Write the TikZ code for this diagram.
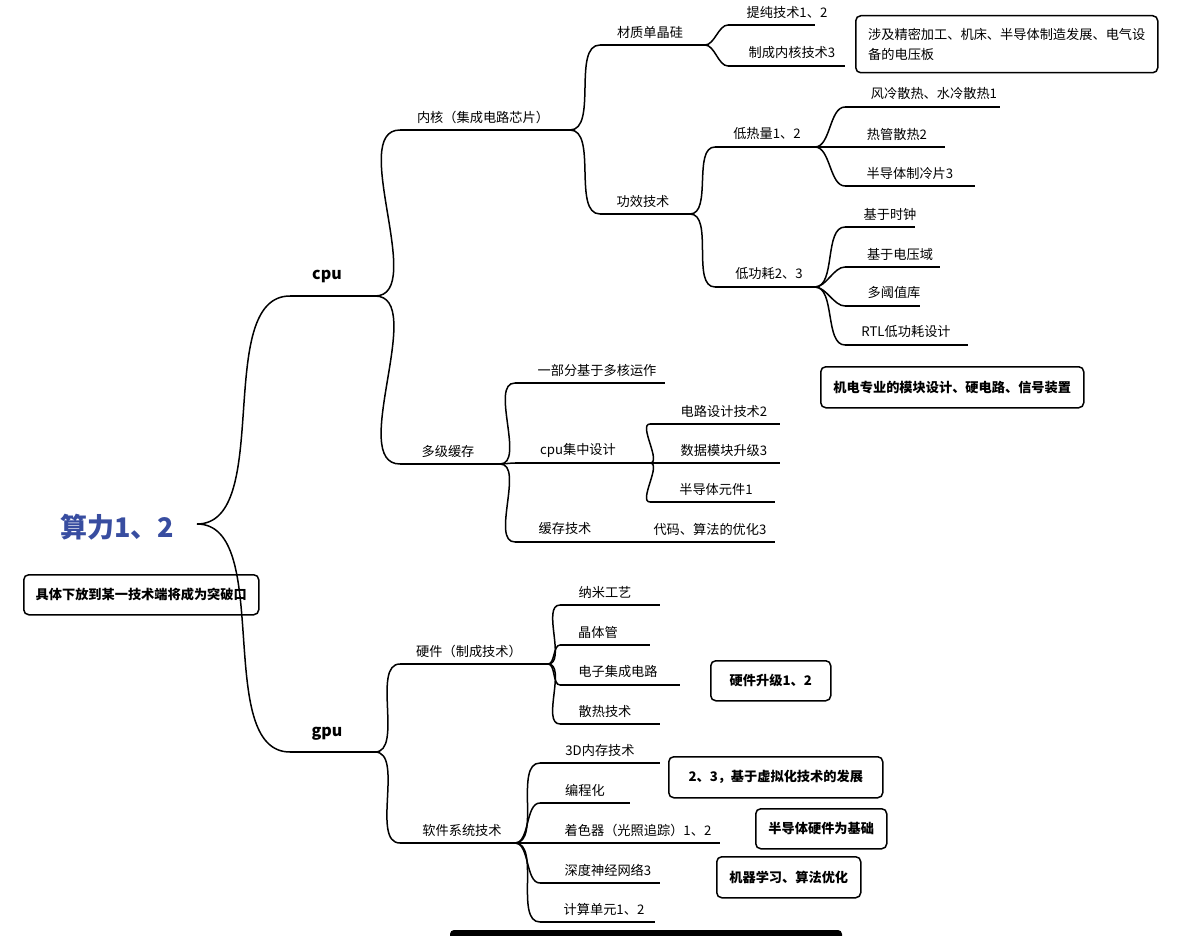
\documentclass[tikz,border=0pt]{standalone}
\usepackage{fontspec}
\setmainfont{Noto Sans CJK SC}
\definecolor{rootc}{RGB}{56,77,160}
\begin{document}
\begin{tikzpicture}[x=1pt,y=-1pt,line width=1.5pt,
  txt/.style={font=\fontsize{13.2}{15}\selectfont,inner sep=0pt},
  box/.style={draw,rounded corners=5pt,line width=1.5pt,font=\fontsize{13.2}{15}\selectfont\bfseries,inner sep=0pt,align=center},
  lk/.style={out=0,in=180,looseness=0.8}]
\useasboundingbox (0,0) rectangle (1200,936);
\newcommand{\mm}[6]{\node[txt] (#1) at (#5,#4-13) {#6};
  \coordinate (#1-l) at (#2,#4); \coordinate (#1-r) at (#3,#4);
  \draw (#1-l) -- (#1-r);}
\newcommand{\lnk}[2]{\draw (#1-r) to[lk] (#2-l);}
\node[font=\fontsize{27}{30}\selectfont\bfseries,text=rootc,inner sep=0pt] (root) at (117,527) {算力1、2};
\coordinate (root-r) at (197,524);
% cpu
\node[font=\fontsize{16}{18}\selectfont\bfseries,inner sep=0pt] (cpu) at (327,276) {cpu};
\coordinate (cpu-l) at (290,296); \coordinate (cpu-r) at (375,296);
\draw (cpu-l) -- (cpu-r);
\node[font=\fontsize{16}{18}\selectfont\bfseries,inner sep=0pt] (gpu) at (327,734) {gpu};
\coordinate (gpu-l) at (290,752); \coordinate (gpu-r) at (375,752);
\draw (gpu-l) -- (gpu-r);
\lnk{root}{cpu}\lnk{root}{gpu}
\mm{nh}{400}{570}{130}{483}{内核（集成电路芯片）}
\mm{dj}{400}{500}{464}{448}{多级缓存}
\lnk{cpu}{nh}\lnk{cpu}{dj}
\mm{cz}{600}{705}{45}{650}{材质单晶硅}
\mm{gx}{600}{690}{214}{643}{功效技术}
\lnk{nh}{cz}\lnk{nh}{gx}
\mm{tc}{728}{815}{25}{787}{提纯技术1、2}
\mm{zc}{728}{845}{66}{792}{制成内核技术3}
\lnk{cz}{tc}\lnk{cz}{zc}
\mm{drl}{715}{815}{147}{767}{低热量1、2}
\mm{dgh}{715}{815}{287}{769}{低功耗2、3}
\lnk{gx}{drl}\lnk{gx}{dgh}
\mm{fl}{845}{1000}{107}{934}{风冷散热、水冷散热1}
\mm{rg}{845}{945}{147}{897}{热管散热2}
\mm{bd}{845}{975}{186}{910}{半导体制冷片3}
\lnk{drl}{fl}\lnk{drl}{rg}\lnk{drl}{bd}
\mm{sz}{845}{915}{227}{890}{基于时钟}
\mm{dy}{845}{940}{267}{900}{基于电压域}
\mm{df}{845}{920}{306}{894}{多阈值库}
\mm{rtl}{845}{968}{345}{906}{RTL低功耗设计}
\lnk{dgh}{sz}\lnk{dgh}{dy}\lnk{dgh}{df}\lnk{dgh}{rtl}
\mm{yb}{515}{665}{383}{597}{一部分基于多核运作}
\mm{jz}{515}{650}{463}{578}{cpu集中设计}
\mm{hc}{515}{630}{542}{565}{缓存技术}
\lnk{dj}{yb}\lnk{dj}{jz}\lnk{dj}{hc}
\mm{dl}{650}{780}{424}{724}{电路设计技术2}
\mm{sj}{650}{780}{463}{724}{数据模块升级3}
\mm{bt}{650}{775}{502}{716}{半导体元件1}
\lnk{jz}{dl}\lnk{jz}{sj}\lnk{jz}{bt}
\mm{dm}{630}{775}{542}{710}{代码、算法的优化3}
% gpu
\mm{yj}{400}{548}{664}{469}{硬件（制成技术）}
\mm{rj}{400}{515}{843}{462}{软件系统技术}
\lnk{gpu}{yj}\lnk{gpu}{rj}
\mm{nm}{560}{660}{605}{605}{纳米工艺}
\mm{jt}{560}{650}{645}{598}{晶体管}
\mm{dz}{560}{680}{685}{618}{电子集成电路}
\mm{sr}{560}{660}{724}{605}{散热技术}
\lnk{yj}{nm}\lnk{yj}{jt}\lnk{yj}{dz}\lnk{yj}{sr}
\mm{nc}{540}{660}{763}{600}{3D内存技术}
\mm{bc}{540}{630}{803}{585}{编程化}
\mm{zs}{540}{720}{843}{638}{着色器（光照追踪）1、2}
\mm{sd}{540}{660}{883}{608}{深度神经网络3}
\mm{js}{540}{655}{922}{604}{计算单元1、2}
\lnk{rj}{nc}\lnk{rj}{bc}\lnk{rj}{zs}\lnk{rj}{sd}\lnk{rj}{js}
% boxes
\node[box,font=\fontsize{13.2}{20}\selectfont,align=left,minimum width=302pt,minimum height=57pt,anchor=north west] (b1) at (855,15) {涉及精密加工、机床、半导体制造发展、电气设\\备的电压板\hspace*{10.8em}};
\node[box,minimum width=263pt,minimum height=41pt,anchor=north west] (b2) at (820,366) {机电专业的模块设计、硬电路、信号装置};
\node[box,minimum width=235pt,minimum height=40pt,anchor=north west] (b3) at (23,574) {具体下放到某一技术端将成为突破口};
\node[box,minimum width=120pt,minimum height=40pt,anchor=north west] (b4) at (710,660) {硬件升级1、2};
\node[box,minimum width=214pt,minimum height=41pt,anchor=north west] (b5) at (668,756) {2、3，基于虚拟化技术的发展};
\node[box,minimum width=131pt,minimum height=40pt,anchor=north west] (b6) at (755,808) {半导体硬件为基础};
\node[box,minimum width=144pt,minimum height=41pt,anchor=north west] (b7) at (716,856) {机器学习、算法优化};
\fill[rounded corners=4pt] (450,930) rectangle (842,945);
\end{tikzpicture}
\end{document}
